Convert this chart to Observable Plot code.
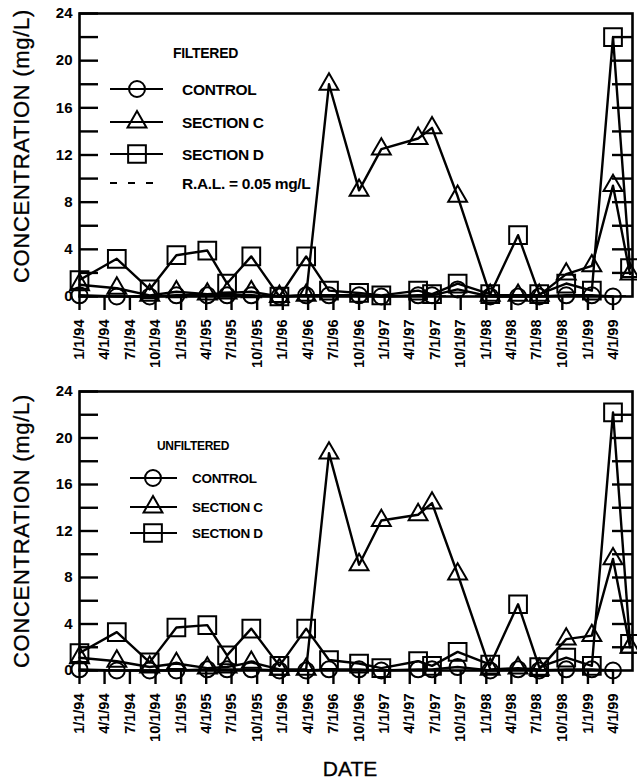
<!DOCTYPE html>
<html><head><meta charset="utf-8">
<script src="https://cdn.jsdelivr.net/npm/d3@7"></script>
<script src="https://cdn.jsdelivr.net/npm/@observablehq/plot@0.6"></script>
<style>
html,body{margin:0;padding:0;background:#fff;}
#chart{position:relative;width:637px;height:781px;overflow:hidden;background:#fff;}
#chart svg.plot{display:block;}
#overlay{position:absolute;left:0;top:0;pointer-events:none;}
</style></head><body><div id="chart"></div>
<script>
// ---- data ----
const sampleDates = ["1994-01-01","1994-05-15","1994-09-10","1994-12-15","1995-04-05","1995-06-15","1995-09-10","1995-12-20","1996-03-25","1996-06-15","1996-10-01","1996-12-20","1997-05-01","1997-06-20","1997-09-20","1998-01-15","1998-04-25","1998-07-10","1998-10-15","1999-01-15","1999-04-01","1999-06-01"];
const tickDates = ["1994-01-01","1994-04-01","1994-07-01","1994-10-01","1995-01-01","1995-04-01","1995-07-01","1995-10-01","1996-01-01","1996-04-01","1996-07-01","1996-10-01","1997-01-01","1997-04-01","1997-07-01","1997-10-01","1998-01-01","1998-04-01","1998-07-01","1998-10-01","1999-01-01","1999-04-01"];
const xDomain = ["1994-01-01","1999-06-10"];
const yDomain = [0, 24];
const yLabelTicks = [0,4,8,12,16,20,24];
const yLeftTicks = [0,2,4,6,8,10,12,14,16,18,20,22,24];
const yRightTicks = [2,4,6,8,10,12,14,16,18,20,22];
const seriesNames = ["CONTROL","SECTION C","SECTION D"];
const ral = 0.05;
const ralLabel = "R.A.L. = 0.05 mg/L";

const filteredControl  = [0.1,0.0,0.0,0.1,0.1,0.1,0.1,0.0,0.1,0.1,0.1,0.0,0.1,0.1,0.6,0.0,0.0,0.0,0.1,0.1,0.0,null];
const filteredSectionC = [1.0,0.7,0.1,0.4,0.2,0.3,0.4,0.0,0.1,18.0,9.0,12.5,13.4,14.3,8.5,0.1,0.1,0.1,1.9,2.6,9.4,1.9];
const filteredSectionD = [1.4,3.2,0.6,3.5,3.9,1.1,3.4,0.0,3.4,0.5,0.3,0.1,0.5,0.2,1.1,0.2,5.2,0.2,1.1,0.5,22.0,2.4];

const unfilteredControl  = [0.1,0.0,0.0,0.0,0.1,0.1,0.1,0.0,0.0,0.1,0.1,0.0,0.1,0.1,0.3,0.0,0.1,0.0,0.1,0.1,0.0,null];
const unfilteredSectionC = [1.1,0.8,0.3,0.6,0.2,0.3,0.7,0.1,0.1,18.7,9.1,12.9,13.4,14.4,8.3,0.1,0.2,0.1,2.7,3.0,9.6,2.0];
const unfilteredSectionD = [1.5,3.3,0.7,3.7,3.9,1.3,3.6,0.4,3.6,0.9,0.6,0.2,0.8,0.4,1.6,0.5,5.7,0.3,1.1,0.4,22.2,2.3];

// ---- drawing ----
const parse = d3.utcParse("%Y-%m-%d");
const fmt = d3.utcFormat("%-m/%-d/%y");
const FONT = "'Liberation Sans', Arial, Helvetica, sans-serif";
const W = 637, ML = 79, MR = 5;
const innerW = W - ML - MR;
const symbolDefs = [["circle", 8], ["triangle", 7], ["square", 10]];

function panel(seriesValues, height, mt, mb, withRal) {
  const marks = [];
  if (withRal) marks.push(Plot.ruleY([ral], {stroke: "black", strokeWidth: 1.5, strokeDasharray: "7,11"}));
  seriesValues.forEach((vals, k) => {
    const data = sampleDates.map((d, i) => ({date: parse(d), value: vals[i], name: seriesNames[k]}));
    const [sym, r] = symbolDefs[k];
    marks.push(Plot.lineY(data, {x: "date", y: "value", stroke: "black", strokeWidth: 2.4}));
    marks.push(Plot.dot(data.filter(d => d.value != null), {x: "date", y: "value", symbol: sym, r, fill: "none", stroke: "black", strokeWidth: 2}));
  });
  marks.push(
    Plot.tickY(yLeftTicks, {y: d => d, insetRight: innerW - 19, stroke: "black", strokeWidth: 2.4}),
    Plot.tickY(yRightTicks, {y: d => d, insetLeft: innerW - 20, stroke: "black", strokeWidth: 2.4}),
    Plot.axisY(yLabelTicks, {tickSize: 0, tickPadding: 7, fontSize: 15, fontWeight: "bold", label: null}),
    Plot.axisX(tickDates.map(parse), {tickSize: 14, tickPadding: 9, tickRotate: -90, tickFormat: fmt, fontSize: 14.5, fontWeight: "bold", label: null, strokeWidth: 2.4}),
    Plot.frame({stroke: "black", strokeWidth: 2.6})
  );
  const p = Plot.plot({
    width: W, height,
    marginLeft: ML, marginRight: MR, marginTop: mt, marginBottom: mb,
    x: {type: "utc", domain: xDomain.map(parse)},
    y: {domain: yDomain},
    style: {fontFamily: FONT, fontSize: "14px", color: "black", background: "white", overflow: "visible"},
    marks
  });
  p.classList.add("plot");
  return p;
}

const chart = document.getElementById("chart");
chart.appendChild(panel([filteredControl, filteredSectionC, filteredSectionD], 385, 13, 89, true));
chart.appendChild(panel([unfilteredControl, unfilteredSectionC, unfilteredSectionD], 396, 6, 111, false));

// ---- overlay: titles and legends ----
const ov = d3.select(chart).append("svg").attr("id", "overlay").attr("width", W).attr("height", 781)
  .style("font-family", FONT);

function yTitle(cy) {
  ov.append("text").attr("transform", `translate(21,${cy}) rotate(-90)`)
    .attr("text-anchor", "middle").attr("dominant-baseline", "central")
    .attr("font-size", 22).attr("letter-spacing", 0.7).attr("stroke", "black").attr("stroke-width", 0.3)
    .text("CONCENTRATION (mg/L)");
}
yTitle(146);
yTitle(531);
ov.append("text").attr("x", 350).attr("y", 768).attr("text-anchor", "middle").attr("dominant-baseline", "central")
  .attr("font-size", 21).attr("stroke", "black").attr("stroke-width", 0.3).text("DATE");

function legend(title, tx, ty, fs, rows, x0, x1, sx, lx, withRal, ralY) {
  ov.append("text").attr("x", tx).attr("y", ty).attr("dominant-baseline", "central")
    .attr("font-size", fs - 1.5).attr("font-weight", "bold").attr("letter-spacing", -0.3).text(title);
  rows.forEach((y, k) => {
    const [sym, r] = symbolDefs[k];
    ov.append("line").attr("x1", x0).attr("x2", x1).attr("y1", y).attr("y2", y).attr("stroke", "black").attr("stroke-width", 2.2);
    const shape = {circle: d3.symbolCircle, triangle: d3.symbolTriangle, square: d3.symbolSquare}[sym];
    ov.append("path").attr("transform", `translate(${sx},${y})`).attr("d", d3.symbol(shape, Math.PI * r * r)())
      .attr("fill", "none").attr("stroke", "black").attr("stroke-width", 2);
    ov.append("text").attr("x", lx).attr("y", y).attr("dominant-baseline", "central")
      .attr("font-size", fs).attr("font-weight", "bold").attr("letter-spacing", -0.3).text(seriesNames[k]);
  });
  if (withRal) {
    ov.append("line").attr("x1", x0).attr("x2", x1).attr("y1", ralY).attr("y2", ralY).attr("stroke", "black")
      .attr("stroke-width", 2).attr("stroke-dasharray", "7,11");
    ov.append("text").attr("x", lx).attr("y", ralY).attr("dominant-baseline", "central")
      .attr("font-size", fs).attr("font-weight", "bold").attr("letter-spacing", -0.3).text(ralLabel);
  }
}
legend("FILTERED", 173, 53, 15.5, [89, 122, 154], 110, 163, 137, 182, true, 183);
legend("UNFILTERED", 157, 446, 13.5, [478, 507, 533], 130, 177, 153, 192, false, 0);
</script></body></html>
